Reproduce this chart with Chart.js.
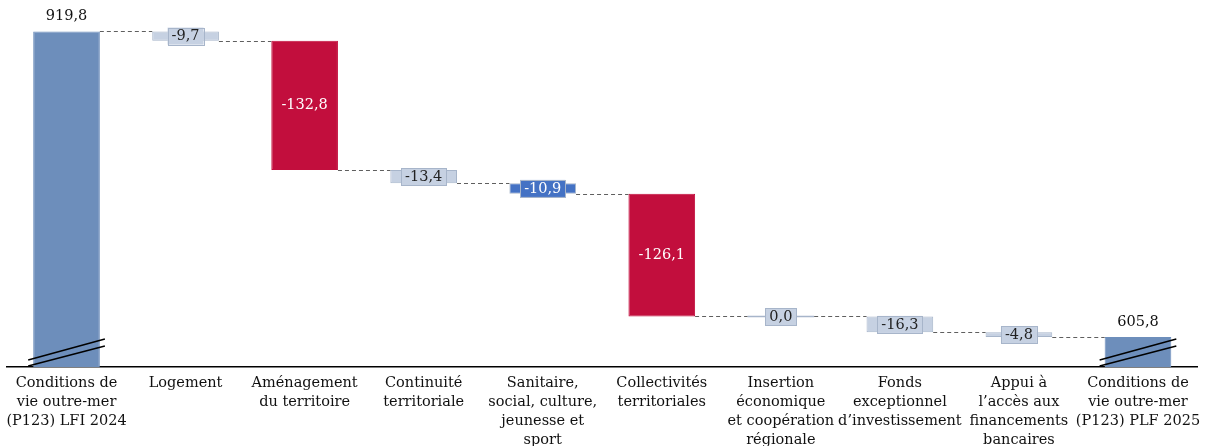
<!DOCTYPE html>
<html><head><meta charset="utf-8">
<script src="https://cdn.jsdelivr.net/npm/chart.js@4/dist/chart.umd.min.js"></script>
<style>html,body{margin:0;padding:0;background:#fff}#wrap{width:1205px;height:446px}</style>
</head><body><div id="wrap"><canvas id="c" width="1205" height="446"></canvas></div>
<script>
const categories = [
  ["Conditions de","vie outre-mer","(P123) LFI 2024"],
  ["Logement"],
  ["Aménagement","du territoire"],
  ["Continuité","territoriale"],
  ["Sanitaire,","social, culture,","jeunesse et","sport"],
  ["Collectivités","territoriales"],
  ["Insertion","économique","et coopération","régionale"],
  ["Fonds","exceptionnel","d\u2019investissement"],
  ["Appui à","l\u2019accès aux","financements","bancaires"],
  ["Conditions de","vie outre-mer","(P123) PLF 2025"]
];
const startValue = 919.8;
const deltas = [-9.7, -132.8, -13.4, -10.9, -126.1, 0.0, -16.3, -4.8];
const endValue = 605.8;
const axisMin = 575;
const axisMax = 950;
const valueLabels = ["919,8","-9,7","-132,8","-13,4","-10,9","-126,1","0,0","-16,3","-4,8","605,8"];

const C_TOTAL = '#6D8EBB', C_RED = '#C20E3D', C_LIGHT = '#C6D1E2', C_BLUE = '#4472C4';
const barColors = [C_TOTAL, C_LIGHT, C_RED, C_LIGHT, C_BLUE, C_RED, C_LIGHT, C_LIGHT, C_LIGHT, C_TOTAL];
const borderColors = [C_TOTAL, '#A7B5CA', C_RED, '#A7B5CA', '#A7B5CA', C_RED, '#A7B5CA', '#A7B5CA', '#A7B5CA', C_TOTAL];
const labelStyle = ['above','box','inside','box','box','inside','box','box','box','above'];
const labelColor = ['#111','#222','#fff','#222','#fff','#fff','#222','#222','#222','#111'];

const ranges = [];
const levels = [];
ranges.push([axisMin, startValue]); levels.push(startValue);
let cur = startValue;
for (const d of deltas) { const nxt = +(cur + d).toFixed(1); ranges.push([nxt, cur]); cur = nxt; levels.push(cur); }
ranges.push([axisMin, endValue]); levels.push(endValue);

const FONT = "'DejaVu Serif', serif";

const plugin = {
  id: 'wf',
  afterDatasetsDraw(chart) {
    const ctx = chart.ctx;
    const meta = chart.getDatasetMeta(0);
    const y = chart.scales.y;
    const bars = meta.data;
    ctx.save();
    bars.forEach((b, i) => {
      if (Math.abs(b.y - b.base) < 1) {
        ctx.strokeStyle = '#A7B5CA'; ctx.lineWidth = 1.5;
        ctx.beginPath(); ctx.moveTo(b.x - b.width/2, Math.round(b.y)+0.5); ctx.lineTo(b.x + b.width/2, Math.round(b.y)+0.5); ctx.stroke();
      }
    });
    ctx.strokeStyle = '#5f5f5f'; ctx.lineWidth = 1; ctx.setLineDash([4,3]);
    for (let i = 0; i < bars.length - 1; i++) {
      const b = bars[i], n = bars[i+1];
      const yy = Math.round(y.getPixelForValue(levels[i])) + 0.5;
      ctx.beginPath();
      ctx.moveTo(b.x + b.width/2, yy);
      ctx.lineTo(n.x - n.width/2, yy);
      ctx.stroke();
    }
    ctx.setLineDash([]);
    [0, bars.length-1].forEach(i => {
      const b = bars[i];
      const l = b.x - b.width/2 - 5, r = b.x + b.width/2 + 5;
      const bot = y.bottom;
      ctx.strokeStyle = '#000'; ctx.lineWidth = 1.5;
      ctx.beginPath(); ctx.moveTo(l, bot-7); ctx.lineTo(r, bot-28); ctx.stroke();
      ctx.beginPath(); ctx.moveTo(l, bot-1); ctx.lineTo(r, bot-21); ctx.stroke();
    });
    ctx.font = "14.5px " + FONT;
    ctx.textAlign = 'center'; ctx.textBaseline = 'middle';
    bars.forEach((b, i) => {
      const t = valueLabels[i];
      const top = Math.min(b.y, b.base), bot = Math.max(b.y, b.base);
      if (labelStyle[i] === 'above') {
        ctx.fillStyle = labelColor[i];
        ctx.fillText(t, b.x, top - 15);
      } else if (labelStyle[i] === 'inside') {
        ctx.fillStyle = labelColor[i];
        ctx.fillText(t, b.x, (top + bot)/2);
      } else {
        const w = ctx.measureText(t).width + 8, h = 17;
        const cy = (top + bot)/2;
        ctx.fillStyle = barColors[i];
        ctx.fillRect(b.x - w/2, cy - h/2, w, h);
        ctx.strokeStyle = '#A7B5CA'; ctx.lineWidth = 1;
        ctx.strokeRect(Math.round(b.x - w/2)+0.5, Math.round(cy - h/2)+0.5, Math.round(w), h);
        ctx.fillStyle = labelColor[i];
        ctx.fillText(t, b.x, cy + 0.5);
      }
    });
    ctx.restore();
  }
};

new Chart(document.getElementById('c'), {
  type: 'bar',
  data: {
    labels: categories,
    datasets: [{
      data: ranges,
      backgroundColor: barColors,
      borderColor: borderColors,
      borderWidth: 1,
      borderSkipped: false,
      barPercentage: 0.56,
      categoryPercentage: 1.0
    }]
  },
  options: {
    responsive: false,
    animation: false,
    layout: { padding: { left: 7, right: 7.5, top: 2, bottom: 0 } },
    plugins: { legend: { display: false }, tooltip: { enabled: false } },
    scales: {
      y: { display: false, min: axisMin, max: axisMax },
      x: {
        afterFit(s) { s.height = 79; s.paddingLeft = 0; s.paddingRight = 0; },
        grid: { display: false, drawTicks: false },
        border: { display: true, color: '#000', width: 1.5 },
        ticks: {
          autoSkip: false, maxRotation: 0, padding: 7,
          color: '#111',
          font: { family: FONT, size: 14.5, lineHeight: 1.31 }
        }
      }
    }
  },
  plugins: [plugin]
});
</script></body></html>
